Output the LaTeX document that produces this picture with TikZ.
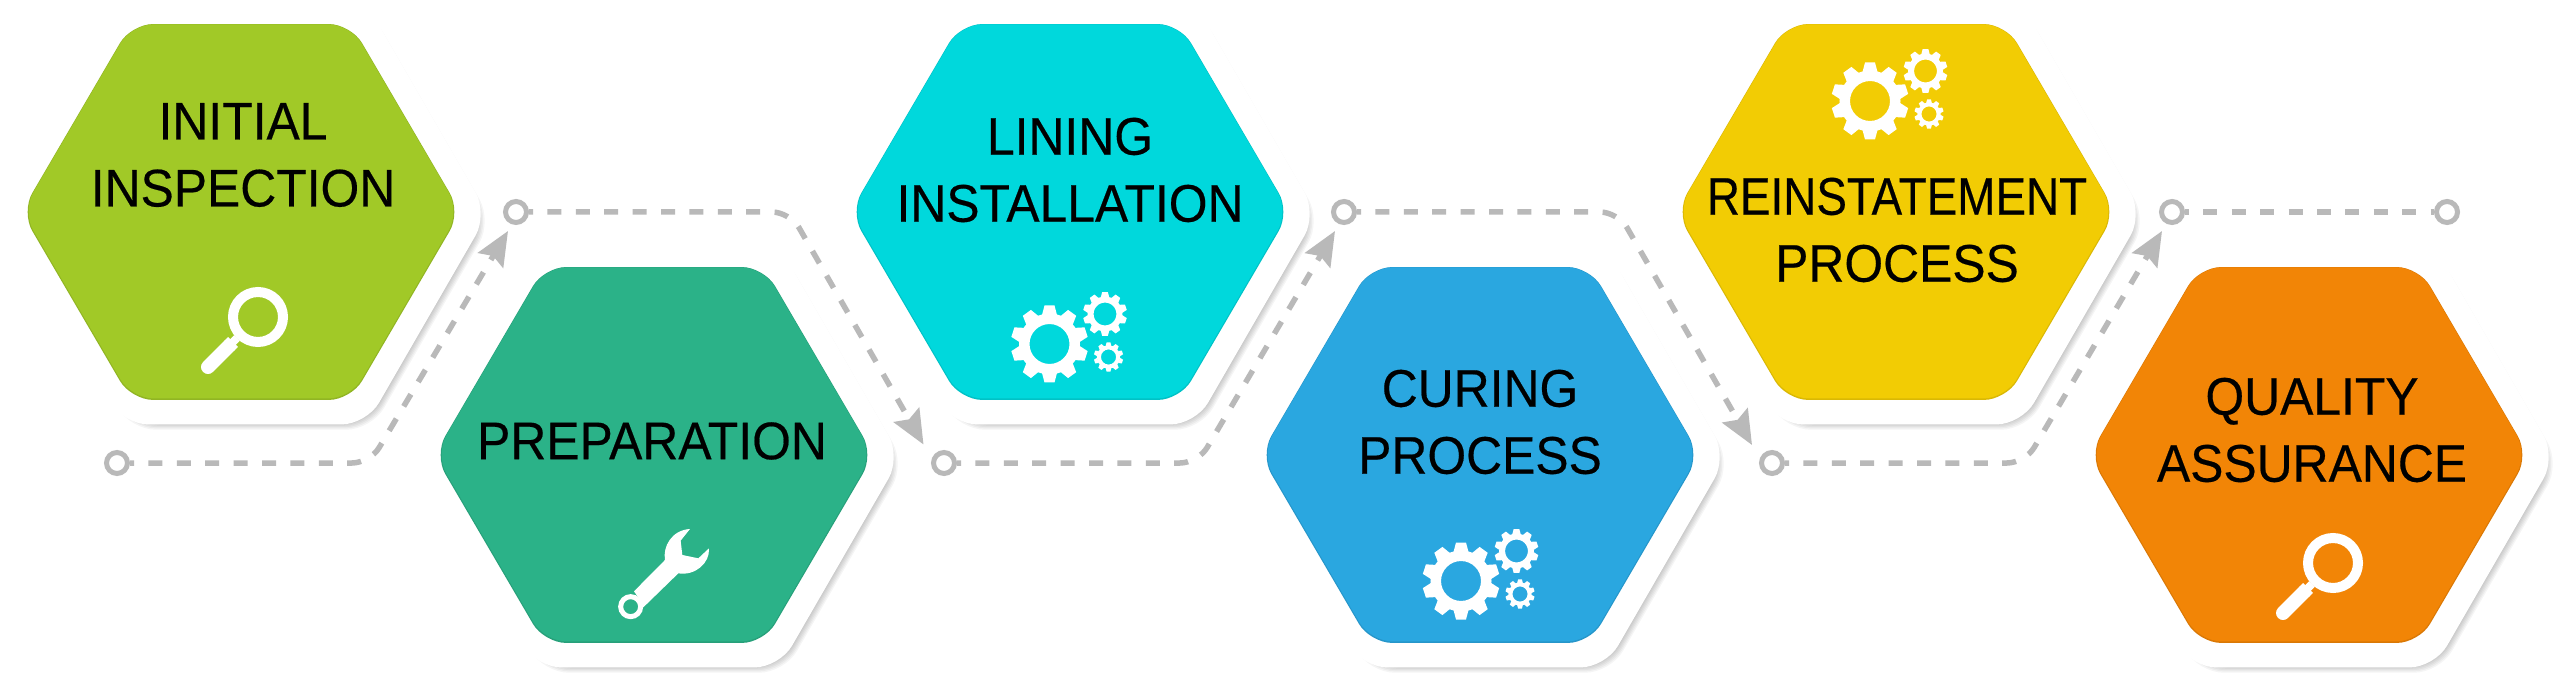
\documentclass[tikz,border=0pt]{standalone}
\usepackage{fontspec}
\setmainfont[FakeStretch=0.94,FakeBold=0.35]{Liberation Sans}
\usetikzlibrary{shapes.geometric,arrows.meta}
\definecolor{cgreen}{HTML}{A1C927}
\definecolor{cteal}{HTML}{2BB288}
\definecolor{ccyan}{HTML}{00D8DC}
\definecolor{cblue}{HTML}{2AA7E0}
\definecolor{cyellow}{HTML}{F2CC04}
\definecolor{corange}{HTML}{F28506}
\definecolor{cgrey}{HTML}{B9B9B9}
\tikzset{
  hexshape/.style={regular polygon,regular polygon sides=6,inner sep=0pt,outer sep=0pt,draw=none},
  hexback/.style={hexshape,minimum size=486pt,rounded corners=25pt,fill=white},
  hexshade/.style={hexshape,rounded corners=25pt,fill=black,fill opacity=0.04},
  hexedge/.style={hexshape,minimum size=434pt,rounded corners=22pt,xscale=1.013,transform shape},
  hexface/.style={hexshape,minimum size=432pt,rounded corners=22pt,xscale=1.013,transform shape},
  steptext/.style={align=center,inner sep=0pt,text=black,font=\fontsize{53}{67}\selectfont},
  dotnode/.style={circle,draw=cgrey,fill=white,line width=5pt,minimum size=21pt,inner sep=0pt,outer sep=2.5pt},
  conn/.style={draw=cgrey,line width=5.5pt,rounded corners=18pt,dash pattern=on 14pt off 14.4pt,dash phase=10pt},
  connarrow/.style={conn,-{Stealth[length=34pt,width=29pt,inset=5pt]}},
}
\newcommand\hexcell[4]{%
  \foreach \i in {0,...,6}{\node[hexshade,minimum size={464pt+\i*3pt}] at (#2+10,#3+9) {};}
  \node[hexback] at (#2+4,#3+2) {};
  \node[hexedge,fill=#4!90!black] (#1) at (#2,#3) {};
  \node[hexface,fill=#4] at (#2,#3-0.6) {};
}
\newcommand\magicon[2]{%
  \begin{scope}[shift={(#1,#2)}]
    \draw[white,line width=10pt] (0,0) circle (25pt);
    \draw[white,line width=8pt] (-26,26) -- (-21,21);
    \draw[white,line width=14pt,line cap=round] (-50,50) -- (-29,29);
    \draw[white,line width=14pt] (-29,29) -- (-25,25);
  \end{scope}}
\newcommand\gearone[3]{%
  \begin{scope}[shift={(#1,#2)},x=#3pt,y=#3pt]
    \draw[white,line width={#3*10.5pt}] (0,0) circle (25.25);
    \foreach \a in {0,36,...,324}{\fill[white,rotate=\a] (-7.5,29) -- (-5,38.5) -- (5,38.5) -- (7.5,29) -- cycle;}
  \end{scope}}
\newcommand\gearicon[2]{%
  \gearone{#1}{#2}{1}
  \gearone{#1+55.5}{#2-30}{.57}
  \gearone{#1+59}{#2+13}{.38}}
\begin{document}
\begin{tikzpicture}[x=1pt,y=-1pt]
\useasboundingbox (0,0) rectangle (2560,684);
\fill[white] (0,0) rectangle (2560,684);

\hexcell{h1}{241}{212}{cgreen}
\hexcell{h2}{654}{455}{cteal}
\hexcell{h3}{1070}{212}{ccyan}
\hexcell{h4}{1480}{455}{cblue}
\hexcell{h5}{1896}{212}{cyellow}
\hexcell{h6}{2309}{455}{corange}

\node[steptext] (t1) at (243,155) {INITIAL\\INSPECTION};
\node[steptext] (t2) at (652,441) {PREPARATION};
\node[steptext] (t3) at (1070,170) {LINING\\INSTALLATION};
\node[steptext] (t4) at (1480,422) {CURING\\PROCESS};
\node[steptext] (t5) at (1897,230) {\scalebox{.92}[1]{REINSTATEMENT}\\PROCESS};
\node[steptext] (t6) at (2312,430) {QUALITY\\ASSURANCE};

\magicon{258}{317}
\magicon{2333}{563}
\gearicon{1049.5}{344}
\gearicon{1461}{581}
\gearicon{1870}{101}

% wrench
\begin{scope}[shift={(560,500)},x=.3333pt,y=-.3333pt]
  \draw[white,line width=5pt] (212,320) circle (10pt);
  \fill[white] (222,274) -- (315,180) .. controls (308,140) and (335,90) .. (390,87)
    -- (362,122) -- (367,165) -- (415,175) -- (447,145)
    .. controls (450,190) and (405,228) .. (355,220)
    -- (250,322) -- (240,300) -- cycle;
\end{scope}

% connectors
\node[dotnode] (c1) at (117,463) {};
\node[dotnode] (c2) at (516,212) {};
\node[dotnode] (c3) at (944,463) {};
\node[dotnode] (c4) at (1344,212) {};
\node[dotnode] (c5) at (1772,463) {};
\node[dotnode] (c6) at (2172,212) {};
\node[dotnode] (c7) at (2447,212) {};
\coordinate (k1) at (370,463);
\coordinate (a1) at (508,231);
\coordinate (k2) at (790,212);
\coordinate (a2) at (923.5,444.5);
\coordinate (k3) at (1198,463);
\coordinate (a3) at (1335,231);
\coordinate (k4) at (1618,212);
\coordinate (a4) at (1752,445);
\coordinate (k5) at (2025,463);
\coordinate (a5) at (2162,231);
\draw[connarrow] (c1.east) -- (k1) -- (a1);
\draw[connarrow] (c2.east) -- (k2) -- (a2);
\draw[connarrow] (c3.east) -- (k3) -- (a3);
\draw[connarrow] (c4.east) -- (k4) -- (a4);
\draw[connarrow] (c5.east) -- (k5) -- (a5);
\draw[conn] (c6.east) -- (c7.west);
\end{tikzpicture}
\end{document}
